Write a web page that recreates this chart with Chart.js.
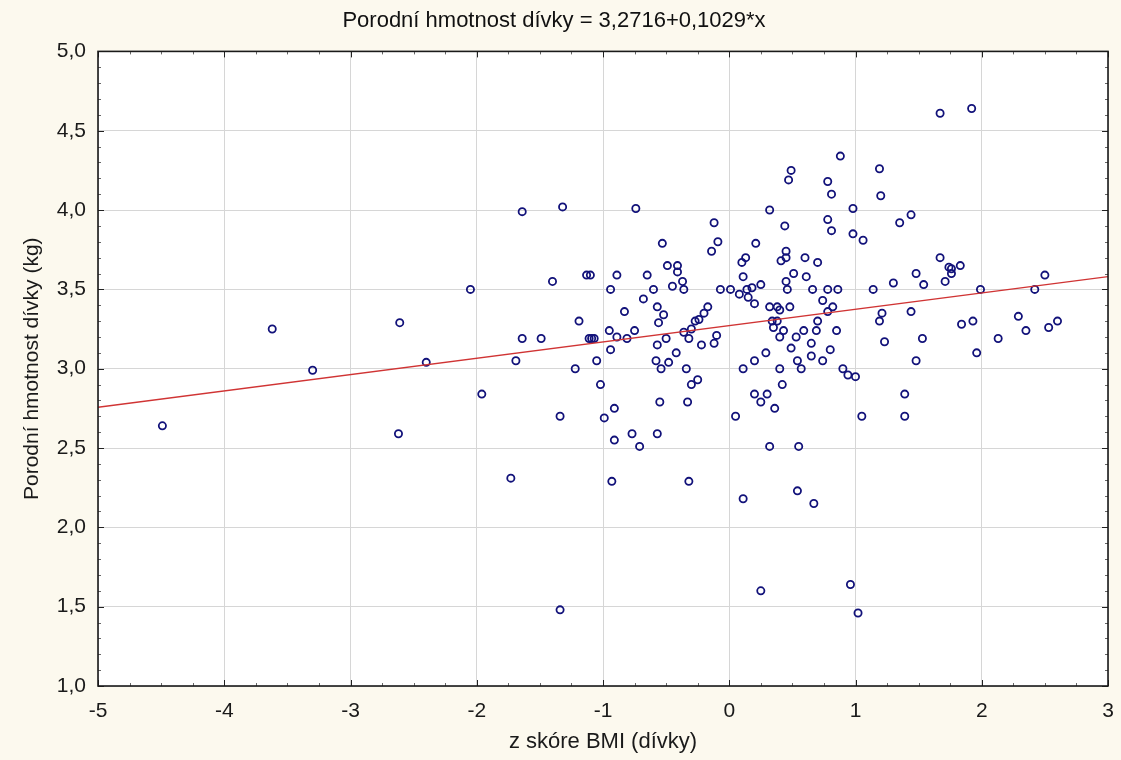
<!DOCTYPE html>
<html>
<head>
<meta charset="utf-8">
<script src="https://cdn.jsdelivr.net/npm/chart.js@4.4.1/dist/chart.umd.min.js"></script>
<style>
  html, body { margin: 0; padding: 0; background: #fcf9ee; }
  #wrap { width: 1121px; height: 760px; }
</style>
</head>
<body>
<div id="wrap"><canvas id="chart" width="1121" height="760"></canvas></div>
<script>
// z score of BMI (girls) and birth weight in kg, one entry per girl
const bmiZ = [
  -4.49, -3.62, -3.30, -2.61, -2.62, -2.40, -2.05, -1.96, -1.73, -1.69,
  -1.64, -1.64, -1.49, -1.40, -1.32, -1.34, -1.34, -1.19, -1.22, -1.13,
  -1.10, -1.11, -1.09, -1.07, -1.05, -1.02, -0.99, -0.95, -0.94, -0.94,
  -0.93, -0.91, -0.91, -0.89, -0.89, -0.83, -0.81, -0.77, -0.75, -0.74,
  -0.71, -0.68, -0.65, -0.60, -0.58, -0.57, -0.57, -0.57, -0.56, -0.55,
  -0.54, -0.53, -0.52, -0.50, -0.49, -0.48, -0.45, -0.42, -0.41, -0.41,
  -0.37, -0.36, -0.36, -0.32, -0.34, -0.30, -0.25, -0.33, -0.32, -0.30,
  -0.27, -0.24, -0.20, -0.17, -0.22, -0.12, -0.10, -0.07, 0.01, -0.12,
  -0.09, -0.14, 0.05, 0.08, 0.10, 0.11, 0.14, 0.18, 0.13, 0.15,
  0.11, 0.11, 0.20, 0.20, 0.25, 0.21, 0.20, 0.25, 0.25, 0.29,
  0.30, 0.32, 0.32, 0.32, 0.34, 0.35, 0.36, 0.38, 0.38, 0.40,
  0.40, 0.40, 0.41, 0.42, 0.43, 0.44, 0.45, 0.45, 0.45, 0.46,
  0.47, 0.49, 0.48, 0.49, 0.51, 0.53, 0.54, 0.54, 0.55, 0.57,
  0.59, 0.60, 0.61, 0.65, 0.65, 0.66, 0.67, 0.69, 0.70, 0.70,
  0.74, 0.74, 0.78, 0.78, 0.78, 0.78, 0.80, 0.81, 0.81, 0.82,
  0.85, 0.86, 0.88, 0.90, 0.94, 0.96, 0.98, 0.98, 1.00, 1.02,
  1.05, 1.06, 1.14, 1.19, 1.20, 1.21, 1.19, 1.23, 1.30, 1.35,
  1.39, 1.39, 1.44, 1.44, 1.48, 1.48, 1.54, 1.53, 1.67, 1.67,
  1.71, 1.74, 1.76, 1.76, 1.83, 1.84, 1.92, 1.93, 1.96, 1.99,
  2.13, 2.29, 2.35, 2.42, 2.50, 2.53, 2.60
];
const birthWeight = [
  2.64, 3.25, 2.99, 3.29, 2.59, 3.04, 3.50, 2.84, 2.31, 3.05,
  3.99, 3.19, 3.19, 3.55, 4.02, 2.70, 1.48, 3.30, 3.00, 3.59,
  3.59, 3.19, 3.19, 3.19, 3.05, 2.90, 2.69, 3.24, 3.50, 3.12,
  2.29, 2.75, 2.55, 3.20, 3.59, 3.36, 3.19, 2.59, 3.24, 4.01,
  2.51, 3.44, 3.59, 3.50, 3.05, 3.15, 3.39, 2.59, 3.29, 2.79,
  3.00, 3.79, 3.34, 3.19, 3.65, 3.04, 3.52, 3.10, 3.65, 3.61,
  3.55, 3.50, 3.23, 3.19, 3.00, 2.90, 2.93, 2.79, 2.29, 3.25,
  3.30, 3.31, 3.35, 3.39, 3.15, 3.16, 3.21, 3.50, 3.50, 3.92,
  3.80, 3.74, 2.70, 3.47, 3.67, 3.58, 3.50, 3.51, 3.70, 3.45,
  3.00, 2.18, 3.05, 3.41, 3.53, 3.79, 2.84, 2.79, 1.60, 3.10,
  2.84, 4.00, 2.51, 3.39, 3.30, 3.26, 2.75, 3.39, 3.30, 3.20,
  3.00, 3.37, 3.68, 2.90, 3.24, 3.90, 3.55, 3.74, 3.70, 3.50,
  4.19, 4.25, 3.39, 3.13, 3.60, 3.20, 2.23, 3.05, 2.51, 3.00,
  3.24, 3.70, 3.58, 3.16, 3.08, 3.50, 2.15, 3.24, 3.30, 3.67,
  3.43, 3.05, 4.18, 3.94, 3.50, 3.36, 3.12, 4.10, 3.87, 3.39,
  3.24, 3.50, 4.34, 3.00, 2.96, 1.64, 4.01, 3.85, 2.95, 1.46,
  2.70, 3.81, 3.50, 4.26, 4.09, 3.35, 3.30, 3.17, 3.54, 3.92,
  2.84, 2.70, 3.97, 3.36, 3.60, 3.05, 3.53, 3.19, 4.61, 3.70,
  3.55, 3.64, 3.63, 3.60, 3.65, 3.28, 4.64, 3.30, 3.10, 3.50,
  3.19, 3.33, 3.24, 3.50, 3.59, 3.26, 3.30
];

// fitted line, as printed in the title
const intercept = 3.2716;
const slope = 0.1029;

// axis ranges and tick steps
const xRange = [-5, 3];
const yRange = [1, 5];
const xStep = 1, xMinorStep = 0.25;
const yStep = 0.5, yMinorStep = 0.1;

const titleText = 'Porodní hmotnost dívky = 3,2716+0,1029*x';
const xTitle = 'z skóre BMI (dívky)';
const yTitle = 'Porodní hmotnost dívky (kg)';

const FONT = "'Liberation Sans', Arial, sans-serif";

const points = bmiZ.map((v, i) => ({ x: v, y: birthWeight[i] }));
const fitLine = xRange.map(v => ({ x: v, y: intercept + slope * v }));

// cream page, white plot area
const backdrop = {
  id: 'backdrop',
  beforeDraw(chart) {
    const { ctx, chartArea: a } = chart;
    ctx.save();
    ctx.fillStyle = '#fcf9ee';
    ctx.fillRect(0, 0, chart.width, chart.height);
    ctx.fillStyle = '#ffffff';
    ctx.fillRect(a.left, a.top, a.width, a.height);
    ctx.restore();
  }
};

// frame plus inward major/minor tick marks on all four sides
const frameTicks = {
  id: 'frameTicks',
  afterDraw(chart) {
    const { ctx, chartArea: a, scales: { x, y } } = chart;
    const seg = (x1, y1, x2, y2) => { ctx.beginPath(); ctx.moveTo(x1, y1); ctx.lineTo(x2, y2); ctx.stroke(); };
    ctx.save();
    ctx.lineWidth = 1;
    for (let v = xRange[0]; v <= xRange[1] + 1e-9; v += xMinorStep) {
      const major = Math.abs(v / xStep - Math.round(v / xStep)) < 1e-6;
      const px = Math.round(x.getPixelForValue(v)) + 0.5;
      const len = major ? 6 : 3;
      ctx.strokeStyle = major ? '#222' : '#666';
      seg(px, a.bottom, px, a.bottom - len);
      seg(px, a.top, px, a.top + len);
    }
    for (let v = yRange[0]; v <= yRange[1] + 1e-9; v += yMinorStep) {
      const major = Math.abs(v / yStep - Math.round(v / yStep)) < 1e-6;
      const py = Math.round(y.getPixelForValue(v)) + 0.5;
      const len = major ? 6 : 3;
      ctx.strokeStyle = major ? '#222' : '#666';
      seg(a.left, py, a.left + len, py);
      seg(a.right, py, a.right - len, py);
    }
    ctx.strokeStyle = '#1a1a1a';
    ctx.lineWidth = 1.6;
    ctx.strokeRect(a.left, a.top, a.width, a.height);
    ctx.restore();
  }
};

new Chart(document.getElementById('chart'), {
  type: 'scatter',
  data: {
    datasets: [
      {
        data: fitLine,
        type: 'line',
        borderColor: '#d03434',
        borderWidth: 1.3,
        pointRadius: 0,
        fill: false,
        order: 0
      },
      {
        data: points,
        pointStyle: 'circle',
        pointRadius: 3.6,
        pointBorderWidth: 1.8,
        pointBorderColor: '#12127a',
        pointBackgroundColor: 'rgba(0,0,0,0)',
        order: 1
      }
    ]
  },
  options: {
    responsive: false,
    animation: false,
    layout: { padding: { left: 0, right: 13, top: 0, bottom: 0 } },
    plugins: {
      legend: { display: false },
      tooltip: { enabled: false },
      title: {
        display: true,
        text: titleText,
        color: '#111',
        font: { family: FONT, size: 22, weight: 'normal', lineHeight: 1.2 },
        padding: { top: 8, bottom: 17 }
      }
    },
    scales: {
      x: {
        type: 'linear',
        min: xRange[0],
        max: xRange[1],
        afterFit(scale) {
          scale.height = 74;
          // keep the "3" label from shrinking the plot area
          scale.paddingLeft = 0;
          scale.paddingRight = 0;
        },
        border: { display: false },
        grid: { color: '#d6d6d6', lineWidth: 1, drawTicks: false },
        ticks: {
          stepSize: xStep,
          padding: 13,
          color: '#1a1a1a',
          font: { family: FONT, size: 21 },
          callback: v => String(v)
        },
        title: {
          display: true,
          text: xTitle,
          color: '#1a1a1a',
          font: { family: FONT, size: 22 },
          padding: { top: 0, bottom: 5 }
        }
      },
      y: {
        type: 'linear',
        min: yRange[0],
        max: yRange[1],
        afterFit(scale) { scale.width = 98; },
        border: { display: false },
        grid: { color: '#d6d6d6', lineWidth: 1, drawTicks: false },
        ticks: {
          stepSize: yStep,
          padding: 12,
          color: '#1a1a1a',
          font: { family: FONT, size: 21 },
          callback: v => v.toFixed(1).replace('.', ',')
        },
        title: {
          display: true,
          text: yTitle,
          color: '#1a1a1a',
          font: { family: FONT, size: 21 },
          padding: { top: 20, bottom: 0 }
        }
      }
    }
  },
  plugins: [backdrop, frameTicks]
});
</script>
</body>
</html>
